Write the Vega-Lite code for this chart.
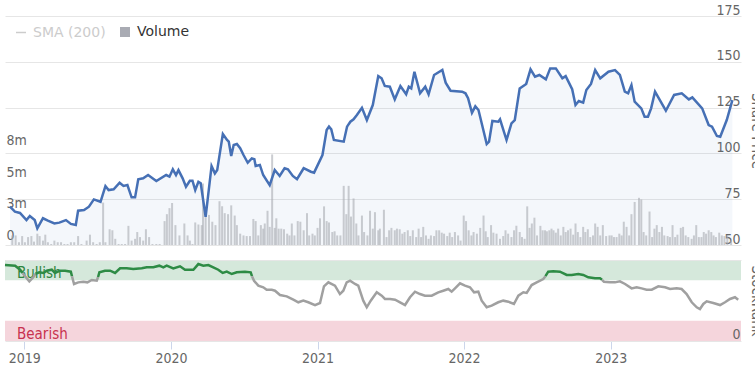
{
  "$schema": "https://vega.github.io/schema/vega-lite/v6.json",
  "background": "white",
  "padding": {"left": 0, "top": 3, "right": 0, "bottom": 0},
  "spacing": 0,
  "resolve": {"scale": {"color": "independent"}, "legend": {"color": "independent"}},
  "datasets": {
    "price": [
      {"t":2018.868,"price":70.9},{"t":2018.902,"price":68.2},{"t":2018.937,"price":67.5},{"t":2018.982,"price":63.6},{"t":2019.005,"price":65.8},{"t":2019.039,"price":63.6},{"t":2019.057,"price":59.1},{"t":2019.096,"price":64.6},{"t":2019.130,"price":63.3},{"t":2019.175,"price":61.8},{"t":2019.209,"price":62.2},{"t":2019.255,"price":63.6},{"t":2019.289,"price":61.5},{"t":2019.323,"price":60.9},{"t":2019.339,"price":68.7},{"t":2019.380,"price":69.1},{"t":2019.414,"price":70.9},{"t":2019.448,"price":74.9},{"t":2019.494,"price":73.6},{"t":2019.528,"price":82.2},{"t":2019.550,"price":80},{"t":2019.585,"price":80.4},{"t":2019.626,"price":84},{"t":2019.653,"price":82.2},{"t":2019.680,"price":82.7},{"t":2019.709,"price":76},{"t":2019.733,"price":76},{"t":2019.755,"price":85.9},{"t":2019.789,"price":86.4},{"t":2019.823,"price":88.2},{"t":2019.880,"price":84.9},{"t":2019.948,"price":88.2},{"t":2019.971,"price":87.3},{"t":2019.994,"price":91.3},{"t":2020.016,"price":88.2},{"t":2020.033,"price":90.9},{"t":2020.062,"price":86.4},{"t":2020.085,"price":81.8},{"t":2020.112,"price":85.1},{"t":2020.130,"price":85.1},{"t":2020.149,"price":80},{"t":2020.171,"price":84.5},{"t":2020.187,"price":83.7},{"t":2020.221,"price":65.4},{"t":2020.262,"price":93.1},{"t":2020.285,"price":89.1},{"t":2020.301,"price":90.9},{"t":2020.340,"price":110.6},{"t":2020.369,"price":107.3},{"t":2020.381,"price":106.4},{"t":2020.398,"price":98.6},{"t":2020.415,"price":104.6},{"t":2020.437,"price":105.1},{"t":2020.460,"price":102.8},{"t":2020.483,"price":99.1},{"t":2020.512,"price":94.9},{"t":2020.540,"price":97.3},{"t":2020.558,"price":96.8},{"t":2020.567,"price":93.1},{"t":2020.596,"price":93.7},{"t":2020.619,"price":88.2},{"t":2020.664,"price":82.7},{"t":2020.699,"price":90.9},{"t":2020.733,"price":87.7},{"t":2020.767,"price":91.9},{"t":2020.790,"price":91.3},{"t":2020.824,"price":87.7},{"t":2020.853,"price":85.9},{"t":2020.899,"price":91.9},{"t":2020.949,"price":90},{"t":2020.971,"price":89.5},{"t":2021.029,"price":99.1},{"t":2021.058,"price":112.8},{"t":2021.074,"price":114.6},{"t":2021.090,"price":113.1},{"t":2021.108,"price":107.3},{"t":2021.176,"price":106.4},{"t":2021.199,"price":114.6},{"t":2021.222,"price":117.3},{"t":2021.244,"price":118.6},{"t":2021.267,"price":121},{"t":2021.302,"price":124.9},{"t":2021.336,"price":118.2},{"t":2021.377,"price":126.4},{"t":2021.415,"price":142.2},{"t":2021.438,"price":141},{"t":2021.460,"price":136.8},{"t":2021.495,"price":136.4},{"t":2021.529,"price":129.5},{"t":2021.568,"price":136.8},{"t":2021.608,"price":132.3},{"t":2021.626,"price":136.4},{"t":2021.643,"price":135.5},{"t":2021.665,"price":144.6},{"t":2021.704,"price":132.8},{"t":2021.740,"price":136.4},{"t":2021.763,"price":132.3},{"t":2021.801,"price":142.8},{"t":2021.858,"price":145.5},{"t":2021.881,"price":138.6},{"t":2021.915,"price":134.2},{"t":2021.995,"price":133.7},{"t":2022.018,"price":132.8},{"t":2022.036,"price":130.1},{"t":2022.063,"price":122.2},{"t":2022.086,"price":125.7},{"t":2022.108,"price":123.7},{"t":2022.165,"price":105.1},{"t":2022.181,"price":106.4},{"t":2022.204,"price":117.7},{"t":2022.245,"price":117.3},{"t":2022.257,"price":118.6},{"t":2022.302,"price":107.3},{"t":2022.336,"price":116.4},{"t":2022.359,"price":118.2},{"t":2022.393,"price":135.5},{"t":2022.438,"price":137.9},{"t":2022.468,"price":145.9},{"t":2022.499,"price":141.9},{"t":2022.529,"price":142.8},{"t":2022.574,"price":140.4},{"t":2022.604,"price":146.4},{"t":2022.643,"price":146.4},{"t":2022.688,"price":141},{"t":2022.711,"price":142.2},{"t":2022.756,"price":135},{"t":2022.779,"price":126.4},{"t":2022.802,"price":128.6},{"t":2022.832,"price":127.7},{"t":2022.854,"price":134.6},{"t":2022.886,"price":137.9},{"t":2022.915,"price":145.5},{"t":2022.950,"price":141},{"t":2023.007,"price":144.6},{"t":2023.052,"price":145.5},{"t":2023.086,"price":142.8},{"t":2023.120,"price":133.7},{"t":2023.143,"price":132.8},{"t":2023.166,"price":137.3},{"t":2023.188,"price":128.2},{"t":2023.234,"price":124.6},{"t":2023.257,"price":120},{"t":2023.280,"price":120},{"t":2023.302,"price":124.6},{"t":2023.329,"price":133.7},{"t":2023.404,"price":123.3},{"t":2023.461,"price":131.9},{"t":2023.514,"price":132.8},{"t":2023.563,"price":129.5},{"t":2023.587,"price":130.6},{"t":2023.655,"price":124.6},{"t":2023.700,"price":115.5},{"t":2023.723,"price":114.6},{"t":2023.757,"price":109.5},{"t":2023.780,"price":109.1},{"t":2023.825,"price":118.2},{"t":2023.864,"price":129.1}
    ],
    "volume": [
      {"t":2018.884,"volume":0.76},{"t":2018.907,"volume":0.76},{"t":2018.930,"volume":0.22},{"t":2018.952,"volume":0.71},{"t":2018.971,"volume":0.22},{"t":2018.993,"volume":0.63},{"t":2019.016,"volume":0.71},{"t":2019.034,"volume":0.27},{"t":2019.057,"volume":0.90},{"t":2019.073,"volume":0.71},{"t":2019.096,"volume":0.35},{"t":2019.112,"volume":0.82},{"t":2019.130,"volume":0.22},{"t":2019.153,"volume":0.08},{"t":2019.175,"volume":0.35},{"t":2019.198,"volume":0.22},{"t":2019.221,"volume":0.22},{"t":2019.244,"volume":0.08},{"t":2019.266,"volume":0.08},{"t":2019.289,"volume":0.22},{"t":2019.312,"volume":0.22},{"t":2019.339,"volume":0.71},{"t":2019.362,"volume":0.08},{"t":2019.398,"volume":0.35},{"t":2019.421,"volume":0.82},{"t":2019.443,"volume":0.22},{"t":2019.467,"volume":0.08},{"t":2019.489,"volume":0.22},{"t":2019.512,"volume":3.37},{"t":2019.528,"volume":0.22},{"t":2019.557,"volume":1.25},{"t":2019.576,"volume":1.17},{"t":2019.596,"volume":0.49},{"t":2019.619,"volume":0.08},{"t":2019.641,"volume":0.08},{"t":2019.664,"volume":0.08},{"t":2019.687,"volume":1.52},{"t":2019.709,"volume":0.35},{"t":2019.733,"volume":0.49},{"t":2019.748,"volume":1.03},{"t":2019.767,"volume":0.63},{"t":2019.789,"volume":0.35},{"t":2019.808,"volume":1.25},{"t":2019.830,"volume":0.63},{"t":2019.853,"volume":0.08},{"t":2019.880,"volume":0.08},{"t":2019.903,"volume":0.08},{"t":2019.937,"volume":1.90},{"t":2019.953,"volume":2.45},{"t":2019.971,"volume":2.93},{"t":2019.989,"volume":3.34},{"t":2020.012,"volume":1.58},{"t":2020.040,"volume":0.76},{"t":2020.074,"volume":1.71},{"t":2020.096,"volume":0.76},{"t":2020.112,"volume":0.35},{"t":2020.130,"volume":0.08},{"t":2020.149,"volume":1.79},{"t":2020.171,"volume":1.63},{"t":2020.194,"volume":1.58},
      {"t":2020.203,"volume":4.89},{"t":2020.221,"volume":2.80},{"t":2020.244,"volume":2.39},{"t":2020.267,"volume":1.85},{"t":2020.289,"volume":1.58},{"t":2020.317,"volume":3.48},{"t":2020.335,"volume":3.08},{"t":2020.353,"volume":2.53},{"t":2020.376,"volume":2.45},{"t":2020.398,"volume":3.15},{"t":2020.422,"volume":2.34},{"t":2020.437,"volume":1.58},{"t":2020.460,"volume":0.90},{"t":2020.483,"volume":0.76},{"t":2020.505,"volume":0.71},{"t":2020.528,"volume":0.71},{"t":2020.551,"volume":2.07},{"t":2020.567,"volume":1.90},{"t":2020.585,"volume":0.76},{"t":2020.603,"volume":1.58},{"t":2020.619,"volume":1.30},{"t":2020.630,"volume":1.71},{"t":2020.649,"volume":2.72},{"t":2020.664,"volume":1.44},{"t":2020.681,"volume":7.20},{"t":2020.699,"volume":1.36},{"t":2020.710,"volume":2.12},{"t":2020.726,"volume":1.30},{"t":2020.744,"volume":1.30},{"t":2020.763,"volume":1.25},{"t":2020.785,"volume":0.90},{"t":2020.801,"volume":0.76},{"t":2020.817,"volume":1.71},{"t":2020.835,"volume":0.76},{"t":2020.858,"volume":1.90},{"t":2020.876,"volume":1.85},{"t":2020.899,"volume":1.17},{"t":2020.922,"volume":2.53},{"t":2020.937,"volume":0.76},{"t":2020.960,"volume":0.90},{"t":2020.976,"volume":0.76},{"t":2020.995,"volume":1.36},{"t":2021.012,"volume":2.12},{"t":2021.040,"volume":3.07},{"t":2021.058,"volume":1.90},{"t":2021.074,"volume":1.79},{"t":2021.097,"volume":1.03},{"t":2021.113,"volume":1.09},{"t":2021.131,"volume":0.76},{"t":2021.153,"volume":0.76},{"t":2021.176,"volume":4.70},{"t":2021.194,"volume":2.45},{"t":2021.210,"volume":4.70},{"t":2021.226,"volume":2.26},{"t":2021.244,"volume":3.70},{"t":2021.263,"volume":1.71},{"t":2021.278,"volume":0.76},{"t":2021.302,"volume":2.34},{"t":2021.317,"volume":1.03},{"t":2021.340,"volume":0.76},{"t":2021.358,"volume":2.72},{"t":2021.377,"volume":1.30},{"t":2021.392,"volume":2.61},{"t":2021.415,"volume":1.17},{"t":2021.426,"volume":1.30},{"t":2021.454,"volume":2.80},{"t":2021.472,"volume":0.63},{"t":2021.490,"volume":1.17},{"t":2021.506,"volume":1.36},{"t":2021.529,"volume":1.17},{"t":2021.544,"volume":1.30},{"t":2021.563,"volume":1.25},{"t":2021.581,"volume":0.90},{"t":2021.597,"volume":1.03},{"t":2021.619,"volume":1.17},{"t":2021.636,"volume":0.71},{"t":2021.654,"volume":1.17},{"t":2021.677,"volume":0.63},{"t":2021.694,"volume":1.30},{"t":2021.711,"volume":0.63},{"t":2021.726,"volume":1.44},{"t":2021.745,"volume":0.76},{"t":2021.763,"volume":0.49},{"t":2021.779,"volume":0.76},{"t":2021.801,"volume":0.71},{"t":2021.817,"volume":1.17},{"t":2021.836,"volume":1.17},{"t":2021.854,"volume":0.98},{"t":2021.870,"volume":0.90},{"t":2021.892,"volume":0.71},{"t":2021.909,"volume":0.98},{"t":2021.926,"volume":0.63},{"t":2021.945,"volume":1.03},{"t":2021.967,"volume":0.76},{"t":2021.984,"volume":0.35},{"t":2022.006,"volume":2.34},{"t":2022.022,"volume":1.90},{"t":2022.040,"volume":1.17},{"t":2022.059,"volume":0.76},{"t":2022.074,"volume":1.03},{"t":2022.097,"volume":0.90},
      {"t":2022.120,"volume":1.36},{"t":2022.143,"volume":2.34},{"t":2022.158,"volume":1.09},{"t":2022.172,"volume":0.63},{"t":2022.195,"volume":1.58},{"t":2022.211,"volume":0.98},{"t":2022.233,"volume":0.90},{"t":2022.257,"volume":0.49},{"t":2022.279,"volume":0.71},{"t":2022.295,"volume":1.17},{"t":2022.313,"volume":0.90},{"t":2022.336,"volume":0.63},{"t":2022.354,"volume":1.17},{"t":2022.370,"volume":1.52},{"t":2022.393,"volume":1.03},{"t":2022.409,"volume":0.63},{"t":2022.427,"volume":0.49},{"t":2022.445,"volume":3.07},{"t":2022.461,"volume":1.36},{"t":2022.477,"volume":1.71},{"t":2022.495,"volume":2.17},{"t":2022.513,"volume":0.76},{"t":2022.536,"volume":1.52},{"t":2022.552,"volume":1.17},{"t":2022.568,"volume":1.17},{"t":2022.581,"volume":1.09},{"t":2022.598,"volume":1.17},{"t":2022.613,"volume":1.30},{"t":2022.627,"volume":1.17},{"t":2022.643,"volume":0.98},{"t":2022.659,"volume":1.30},{"t":2022.677,"volume":0.76},{"t":2022.695,"volume":1.44},{"t":2022.711,"volume":1.03},{"t":2022.727,"volume":1.17},{"t":2022.745,"volume":1.30},{"t":2022.763,"volume":0.82},{"t":2022.779,"volume":1.71},{"t":2022.795,"volume":1.03},{"t":2022.813,"volume":0.63},{"t":2022.832,"volume":1.44},{"t":2022.847,"volume":1.03},{"t":2022.864,"volume":1.25},{"t":2022.881,"volume":0.63},{"t":2022.900,"volume":0.76},{"t":2022.915,"volume":1.71},{"t":2022.932,"volume":1.44},{"t":2022.950,"volume":0.76},{"t":2022.968,"volume":1.58},{"t":2022.991,"volume":0.71},{"t":2023.014,"volume":0.76},{"t":2023.029,"volume":0.76},{"t":2023.045,"volume":0.63},{"t":2023.063,"volume":0.63},{"t":2023.082,"volume":0.90},{"t":2023.098,"volume":0.76},{"t":2023.113,"volume":1.85},{"t":2023.132,"volume":1.44},{"t":2023.150,"volume":0.76},{"t":2023.166,"volume":2.45},{"t":2023.188,"volume":3.42},{"t":2023.218,"volume":3.75},{"t":2023.234,"volume":3.62},{"t":2023.250,"volume":1.03},{"t":2023.268,"volume":0.76},{"t":2023.291,"volume":2.66},{"t":2023.309,"volume":0.63},{"t":2023.325,"volume":1.30},{"t":2023.341,"volume":1.58},{"t":2023.359,"volume":1.03},{"t":2023.377,"volume":1.44},{"t":2023.393,"volume":0.76},{"t":2023.416,"volume":0.71},{"t":2023.432,"volume":0.63},{"t":2023.450,"volume":1.58},{"t":2023.468,"volume":0.63},{"t":2023.484,"volume":0.82},{"t":2023.507,"volume":1.36},{"t":2023.523,"volume":1.44},{"t":2023.541,"volume":0.76},{"t":2023.559,"volume":0.63},{"t":2023.582,"volume":0.49},{"t":2023.598,"volume":0.76},{"t":2023.614,"volume":1.58},{"t":2023.632,"volume":0.63},{"t":2023.650,"volume":0.63},{"t":2023.666,"volume":1.03},{"t":2023.682,"volume":0.90},{"t":2023.700,"volume":1.17},{"t":2023.718,"volume":1.03},{"t":2023.734,"volume":0.76},{"t":2023.750,"volume":0.63},{"t":2023.773,"volume":0.98},{"t":2023.791,"volume":0.76},{"t":2023.809,"volume":0.71},{"t":2023.829,"volume":0.76},{"t":2023.855,"volume":0.35}
    ],
    "rank": [
      {"t":2018.868,"rank":93.8,"zone":"Bullish","seg":1},{"t":2018.937,"rank":93,"zone":"Bullish","seg":1},{"t":2018.971,"rank":88,"zone":"Bullish","seg":1},{"t":2018.988,"rank":84,"zone":"Bullish","seg":1},
      {"t":2018.988,"rank":84,"zone":"Neutral","seg":2},{"t":2019.005,"rank":80,"zone":"Neutral","seg":2},{"t":2019.034,"rank":73.7,"zone":"Neutral","seg":2},{"t":2019.061,"rank":78.6,"zone":"Neutral","seg":2},{"t":2019.076,"rank":83,"zone":"Neutral","seg":2},
      {"t":2019.076,"rank":83,"zone":"Bullish","seg":3},{"t":2019.102,"rank":84.8,"zone":"Bullish","seg":3},{"t":2019.130,"rank":84,"zone":"Bullish","seg":3},{"t":2019.153,"rank":86.8,"zone":"Bullish","seg":3},{"t":2019.187,"rank":88,"zone":"Bullish","seg":3},{"t":2019.209,"rank":84,"zone":"Bullish","seg":3},{"t":2019.244,"rank":86.8,"zone":"Bullish","seg":3},{"t":2019.278,"rank":86.8,"zone":"Bullish","seg":3},{"t":2019.317,"rank":85.6,"zone":"Bullish","seg":3},{"t":2019.325,"rank":80,"zone":"Bullish","seg":3},
      {"t":2019.325,"rank":80,"zone":"Neutral","seg":4},{"t":2019.339,"rank":70.4,"zone":"Neutral","seg":4},{"t":2019.368,"rank":72.4,"zone":"Neutral","seg":4},{"t":2019.402,"rank":73.2,"zone":"Neutral","seg":4},{"t":2019.430,"rank":72.4,"zone":"Neutral","seg":4},{"t":2019.460,"rank":75.3,"zone":"Neutral","seg":4},{"t":2019.494,"rank":74.4,"zone":"Neutral","seg":4},{"t":2019.503,"rank":79,"zone":"Neutral","seg":4},
      {"t":2019.503,"rank":79,"zone":"Bullish","seg":5},{"t":2019.512,"rank":84.8,"zone":"Bullish","seg":5},{"t":2019.550,"rank":86.8,"zone":"Bullish","seg":5},{"t":2019.585,"rank":86.8,"zone":"Bullish","seg":5},{"t":2019.619,"rank":84,"zone":"Bullish","seg":5},{"t":2019.653,"rank":89.7,"zone":"Bullish","seg":5},{"t":2019.698,"rank":89.7,"zone":"Bullish","seg":5},{"t":2019.743,"rank":88.9,"zone":"Bullish","seg":5},{"t":2019.801,"rank":89.7,"zone":"Bullish","seg":5},{"t":2019.835,"rank":91,"zone":"Bullish","seg":5},{"t":2019.880,"rank":91,"zone":"Bullish","seg":5},{"t":2019.921,"rank":93,"zone":"Bullish","seg":5},{"t":2019.948,"rank":91,"zone":"Bullish","seg":5},{"t":2019.971,"rank":93,"zone":"Bullish","seg":5},{"t":2020.016,"rank":89.7,"zone":"Bullish","seg":5},{"t":2020.062,"rank":92.2,"zone":"Bullish","seg":5},{"t":2020.096,"rank":88,"zone":"Bullish","seg":5},{"t":2020.153,"rank":88,"zone":"Bullish","seg":5},{"t":2020.187,"rank":95,"zone":"Bullish","seg":5},{"t":2020.221,"rank":93,"zone":"Bullish","seg":5},{"t":2020.255,"rank":93.8,"zone":"Bullish","seg":5},{"t":2020.289,"rank":91,"zone":"Bullish","seg":5},{"t":2020.323,"rank":88,"zone":"Bullish","seg":5},{"t":2020.353,"rank":84,"zone":"Bullish","seg":5},{"t":2020.381,"rank":85.6,"zone":"Bullish","seg":5},{"t":2020.415,"rank":82.7,"zone":"Bullish","seg":5},{"t":2020.449,"rank":84.8,"zone":"Bullish","seg":5},{"t":2020.505,"rank":85.6,"zone":"Bullish","seg":5},{"t":2020.544,"rank":84.8,"zone":"Bullish","seg":5},{"t":2020.553,"rank":80,"zone":"Bullish","seg":5},
      {"t":2020.553,"rank":80,"zone":"Neutral","seg":6},{"t":2020.567,"rank":74.4,"zone":"Neutral","seg":6},{"t":2020.596,"rank":68.3,"zone":"Neutral","seg":6},{"t":2020.630,"rank":66.3,"zone":"Neutral","seg":6},{"t":2020.653,"rank":63.3,"zone":"Neutral","seg":6},{"t":2020.688,"rank":63.3,"zone":"Neutral","seg":6},{"t":2020.710,"rank":62.1,"zone":"Neutral","seg":6},{"t":2020.744,"rank":56.8,"zone":"Neutral","seg":6},{"t":2020.790,"rank":55.1,"zone":"Neutral","seg":6},{"t":2020.835,"rank":51,"zone":"Neutral","seg":6},{"t":2020.869,"rank":47.8,"zone":"Neutral","seg":6},{"t":2020.903,"rank":49.8,"zone":"Neutral","seg":6},{"t":2020.937,"rank":47.8,"zone":"Neutral","seg":6},{"t":2020.983,"rank":44.4,"zone":"Neutral","seg":6},{"t":2021.017,"rank":46.9,"zone":"Neutral","seg":6},{"t":2021.044,"rank":67.5,"zone":"Neutral","seg":6},{"t":2021.074,"rank":72.4,"zone":"Neutral","seg":6},{"t":2021.119,"rank":68.3,"zone":"Neutral","seg":6},{"t":2021.153,"rank":58,"zone":"Neutral","seg":6},{"t":2021.176,"rank":62.1,"zone":"Neutral","seg":6},{"t":2021.199,"rank":72.4,"zone":"Neutral","seg":6},{"t":2021.222,"rank":74.4,"zone":"Neutral","seg":6},{"t":2021.256,"rank":70.4,"zone":"Neutral","seg":6},{"t":2021.278,"rank":68.3,"zone":"Neutral","seg":6},{"t":2021.312,"rank":49.8,"zone":"Neutral","seg":6},{"t":2021.336,"rank":41.6,"zone":"Neutral","seg":6},{"t":2021.363,"rank":49.8,"zone":"Neutral","seg":6},{"t":2021.404,"rank":60.1,"zone":"Neutral","seg":6},{"t":2021.438,"rank":55.9,"zone":"Neutral","seg":6},{"t":2021.460,"rank":51.9,"zone":"Neutral","seg":6},{"t":2021.495,"rank":51.9,"zone":"Neutral","seg":6},{"t":2021.529,"rank":51,"zone":"Neutral","seg":6},{"t":2021.563,"rank":47.8,"zone":"Neutral","seg":6},{"t":2021.597,"rank":44.4,"zone":"Neutral","seg":6},{"t":2021.631,"rank":54,"zone":"Neutral","seg":6},{"t":2021.665,"rank":60.9,"zone":"Neutral","seg":6},{"t":2021.699,"rank":58,"zone":"Neutral","seg":6},{"t":2021.733,"rank":55.9,"zone":"Neutral","seg":6},{"t":2021.779,"rank":55.9,"zone":"Neutral","seg":6},{"t":2021.824,"rank":60.1,"zone":"Neutral","seg":6},{"t":2021.858,"rank":62.1,"zone":"Neutral","seg":6},{"t":2021.892,"rank":64.2,"zone":"Neutral","seg":6},{"t":2021.915,"rank":60.9,"zone":"Neutral","seg":6},{"t":2021.938,"rank":65,"zone":"Neutral","seg":6},{"t":2021.972,"rank":71.2,"zone":"Neutral","seg":6},{"t":2022.006,"rank":68.3,"zone":"Neutral","seg":6},{"t":2022.040,"rank":66.3,"zone":"Neutral","seg":6},{"t":2022.068,"rank":60.1,"zone":"Neutral","seg":6},{"t":2022.097,"rank":60.9,"zone":"Neutral","seg":6},{"t":2022.120,"rank":49.8,"zone":"Neutral","seg":6},{"t":2022.154,"rank":41.6,"zone":"Neutral","seg":6},{"t":2022.188,"rank":43.6,"zone":"Neutral","seg":6},{"t":2022.233,"rank":47.8,"zone":"Neutral","seg":6},{"t":2022.267,"rank":49.8,"zone":"Neutral","seg":6},{"t":2022.302,"rank":48.5,"zone":"Neutral","seg":6},{"t":2022.340,"rank":45.7,"zone":"Neutral","seg":6},{"t":2022.370,"rank":55.9,"zone":"Neutral","seg":6},{"t":2022.404,"rank":60.1,"zone":"Neutral","seg":6},{"t":2022.427,"rank":59.3,"zone":"Neutral","seg":6},{"t":2022.461,"rank":69.1,"zone":"Neutral","seg":6},{"t":2022.495,"rank":72.4,"zone":"Neutral","seg":6},{"t":2022.540,"rank":76.5,"zone":"Neutral","seg":6},{"t":2022.555,"rank":80,"zone":"Neutral","seg":6},
      {"t":2022.555,"rank":80,"zone":"Bullish","seg":7},{"t":2022.574,"rank":85.6,"zone":"Bullish","seg":7},{"t":2022.608,"rank":86,"zone":"Bullish","seg":7},{"t":2022.654,"rank":85.6,"zone":"Bullish","seg":7},{"t":2022.700,"rank":81.5,"zone":"Bullish","seg":7},{"t":2022.734,"rank":81.5,"zone":"Bullish","seg":7},{"t":2022.779,"rank":82.7,"zone":"Bullish","seg":7},{"t":2022.813,"rank":81.5,"zone":"Bullish","seg":7},{"t":2022.847,"rank":78.6,"zone":"Bullish","seg":7},{"t":2022.893,"rank":77.4,"zone":"Bullish","seg":7},{"t":2022.927,"rank":77.4,"zone":"Bullish","seg":7},{"t":2022.941,"rank":75.5,"zone":"Bullish","seg":7},
      {"t":2022.941,"rank":75.5,"zone":"Neutral","seg":8},{"t":2022.954,"rank":73.2,"zone":"Neutral","seg":8},{"t":2022.995,"rank":72.4,"zone":"Neutral","seg":8},{"t":2023.029,"rank":72.4,"zone":"Neutral","seg":8},{"t":2023.063,"rank":73.7,"zone":"Neutral","seg":8},{"t":2023.098,"rank":70.4,"zone":"Neutral","seg":8},{"t":2023.143,"rank":65,"zone":"Neutral","seg":8},{"t":2023.177,"rank":66.3,"zone":"Neutral","seg":8},{"t":2023.211,"rank":65,"zone":"Neutral","seg":8},{"t":2023.245,"rank":63.3,"zone":"Neutral","seg":8},{"t":2023.280,"rank":63.3,"zone":"Neutral","seg":8},{"t":2023.325,"rank":67.5,"zone":"Neutral","seg":8},{"t":2023.371,"rank":66.3,"zone":"Neutral","seg":8},{"t":2023.405,"rank":64.2,"zone":"Neutral","seg":8},{"t":2023.450,"rank":65,"zone":"Neutral","seg":8},{"t":2023.484,"rank":64.2,"zone":"Neutral","seg":8},{"t":2023.518,"rank":58,"zone":"Neutral","seg":8},{"t":2023.553,"rank":47.8,"zone":"Neutral","seg":8},{"t":2023.587,"rank":41.6,"zone":"Neutral","seg":8},{"t":2023.609,"rank":39.5,"zone":"Neutral","seg":8},{"t":2023.632,"rank":45.7,"zone":"Neutral","seg":8},{"t":2023.655,"rank":49,"zone":"Neutral","seg":8},{"t":2023.700,"rank":46.9,"zone":"Neutral","seg":8},{"t":2023.746,"rank":44.4,"zone":"Neutral","seg":8},{"t":2023.780,"rank":47.8,"zone":"Neutral","seg":8},{"t":2023.814,"rank":51.9,"zone":"Neutral","seg":8},{"t":2023.848,"rank":54,"zone":"Neutral","seg":8},{"t":2023.870,"rank":51,"zone":"Neutral","seg":8}
    ],
    "bands": [
      {"band":"Bullish","lo":75,"hi":100},
      {"band":"Bearish","lo":0,"hi":25}
    ]
  },
  "vconcat": [
    {
      "width": 736,
      "height": 229,
      "layer": [
        {
          "data": {"name": "price"},
          "mark": {"type": "area", "color": "#4670b5", "opacity": 0.06},
          "encoding": {
            "x": {"field": "t", "type": "quantitative", "scale": {"domain": [2018.868, 2023.889], "nice": false, "zero": false}, "axis": null},
            "y": {"field": "price", "type": "quantitative", "scale": {"domain": [50, 175], "nice": false, "zero": false},
              "axis": {"orient": "right", "values": [50, 75, 100, 125, 150, 175], "grid": true, "gridColor": "#e6e6e6", "gridWidth": 1, "domain": false, "ticks": false, "tickSize": 0, "labelAlign": "right", "labelBaseline": "alphabetic", "labelPadding": -1, "labelOffset": -2, "labelFlush": false, "labelOverlap": false, "labelFont": "DejaVu Sans Condensed, DejaVu Sans", "labelFontSize": 14, "labelColor": "#666666", "title": "Share Price", "titleFont": "DejaVu Sans Condensed, DejaVu Sans", "titleFontSize": 15, "titleFontWeight": "normal", "titleColor": "#666666", "titlePadding": 7}},
            "y2": {"datum": 50}
          }
        },
        {
          "data": {"name": "volume"},
          "mark": {"type": "bar", "size": 2, "opacity": 0.6},
          "encoding": {
            "x": {"field": "t", "type": "quantitative", "scale": {"domain": [2018.868, 2023.889], "nice": false, "zero": false}, "axis": null},
            "y": {"field": "volume", "type": "quantitative", "scale": {"domain": [0, 18.2], "nice": false},
              "axis": {"orient": "left", "values": [0, 2.5, 5, 7.5], "labelExpr": "datum.value == 0 ? '0' : format(datum.value, '.0f') + 'm'", "grid": false, "domain": false, "ticks": false, "tickSize": 0, "labelAlign": "left", "labelBaseline": "alphabetic", "labelPadding": -1, "labelOffset": -6, "labelFlush": false, "labelOverlap": false, "labelFont": "DejaVu Sans Condensed, DejaVu Sans", "labelFontSize": 14, "labelColor": "#666666", "title": null}},
            "color": {"datum": "Volume", "type": "nominal", "scale": {"domain": ["SMA (200)", "Volume"], "range": ["#cccccc", "#a9abb3"]},
              "legend": {"orient": "top-left", "direction": "horizontal", "offset": 9, "padding": 0, "title": null, "labelFont": "DejaVu Sans", "labelFontSize": 14,
                "labelColor": {"expr": "datum.value === 'Volume' ? '#333333' : '#cccccc'"},
                "symbolType": {"expr": "datum.value === 'Volume' ? 'square' : 'stroke'"},
                "symbolStrokeColor": {"expr": "datum.value === 'Volume' ? 'transparent' : '#cccccc'"},
                "symbolOpacity": 1,
                "symbolSize": 100, "labelOffset": 5, "columnPadding": 11, "symbolStrokeWidth": 1.5}}
          }
        },
        {
          "data": {"name": "price"},
          "mark": {"type": "line", "color": "#4670b5", "strokeWidth": 2.5},
          "encoding": {
            "x": {"field": "t", "type": "quantitative", "scale": {"domain": [2018.868, 2023.889], "nice": false, "zero": false}, "axis": null},
            "y": {"field": "price", "type": "quantitative", "scale": {"domain": [50, 175], "nice": false, "zero": false}, "axis": null}
          }
        }
      ],
      "resolve": {"scale": {"y": "independent"}}
    },
    {
      "width": 736,
      "height": 81,
      "layer": [
        {
          "data": {"name": "bands"},
          "mark": {"type": "rect"},
          "encoding": {
            "y": {"field": "hi", "type": "quantitative", "scale": {"domain": [0, 100], "nice": false},
              "axis": {"orient": "right", "zindex": 1, "values": [0, 100], "labelExpr": "datum.value == 0 ? '0' : ''", "grid": true, "gridColor": "#e6e6e6", "domain": false, "ticks": false, "tickSize": 0, "labelAlign": "right", "labelBaseline": "alphabetic", "labelPadding": -1, "labelOffset": -3, "labelFlush": false, "labelOverlap": false, "labelFont": "DejaVu Sans Condensed, DejaVu Sans", "labelFontSize": 14, "labelColor": "#666666", "title": "StockRank", "titleFont": "DejaVu Sans Condensed, DejaVu Sans", "titleFontSize": 15, "titleFontWeight": "normal", "titleColor": "#666666", "titlePadding": 7}},
            "y2": {"field": "lo"},
            "color": {"condition": {"test": "datum.band === 'Bullish'", "value": "#d5e8db"}, "value": "#f5d5dc"}
          }
        },
        {
          "data": {"name": "bands"},
          "mark": {"type": "text", "align": "left", "baseline": "alphabetic", "dy": -2, "font": "DejaVu Sans Condensed, DejaVu Sans", "fontSize": 15},
          "encoding": {
            "x": {"datum": 2018.95, "type": "quantitative", "axis": {"orient": "bottom", "values": [2019, 2020, 2021, 2022, 2023], "format": "d", "grid": false, "domain": false, "tickSize": 8, "tickColor": "#ccd6eb", "labelPadding": 2, "labelFlush": false, "labelFont": "DejaVu Sans Condensed, DejaVu Sans", "labelFontSize": 14, "labelColor": "#666666", "title": null}},
            "y": {"field": "lo", "type": "quantitative"},
            "text": {"field": "band"},
            "color": {"condition": {"test": "datum.band === 'Bullish'", "value": "#2e8540"}, "value": "#c8324f"}
          }
        },
        {
          "data": {"name": "rank"},
          "mark": {"type": "line", "strokeWidth": 2.5},
          "encoding": {
            "x": {"field": "t", "type": "quantitative", "scale": {"domain": [2018.868, 2023.889], "nice": false, "zero": false},
              "axis": {"orient": "bottom", "values": [2019, 2020, 2021, 2022, 2023], "format": "d", "grid": false, "domain": false, "tickSize": 8, "tickColor": "#ccd6eb", "labelPadding": 2, "labelFlush": false, "labelFont": "DejaVu Sans Condensed, DejaVu Sans", "labelFontSize": 14, "labelColor": "#666666", "title": null}},
            "y": {"field": "rank", "type": "quantitative"},
            "color": {"field": "zone", "type": "nominal", "scale": {"domain": ["Bullish", "Neutral"], "range": ["#2e8b45", "#a0a0a0"]}, "legend": null},
            "detail": {"field": "seg", "type": "nominal"}
          }
        }
      ]
    }
  ],
  "config": {"view": {"stroke": null}}
}
